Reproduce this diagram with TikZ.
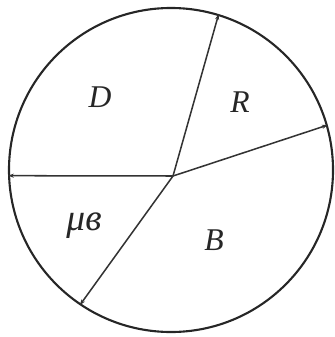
\documentclass[tikz,border=0pt]{standalone}
\usepackage{fontspec}
\newfontfamily\labfont{Liberation Serif}
\usetikzlibrary{arrows.meta}
\begin{document}
\begin{tikzpicture}[x=0.03cm,y=-0.03cm,
  rim/.style={draw=black!85,line width=1.8pt,circle,inner sep=0pt,minimum size=9.72cm},
  spoke/.style={draw=black!80,line width=1.3pt,-{Stealth[length=5pt,width=3.5pt]}},
  lab/.style={font=\labfont\itshape\fontsize{27}{30}\selectfont,text=black!85}]
\useasboundingbox (0,0) rectangle (334,337);
\node[rim] (c) at (171,170) {};
\coordinate (h) at (173,176);
\draw[spoke] (h) -- (c.73.6);
\draw[spoke] (h) -- (c.16);
\draw[spoke] (h) -- (c.182);
\draw[spoke] (h) -- (c.236.5);
\node[lab] (d) at (100,97) {D};
\node[lab] (r) at (240,102) {R};
\node[font=\labfont\itshape\fontsize{32}{34}\selectfont,text=black!85] (mv) at (84,226) {μв};
\node[lab] (b) at (214,240) {B};
\end{tikzpicture}
\end{document}
